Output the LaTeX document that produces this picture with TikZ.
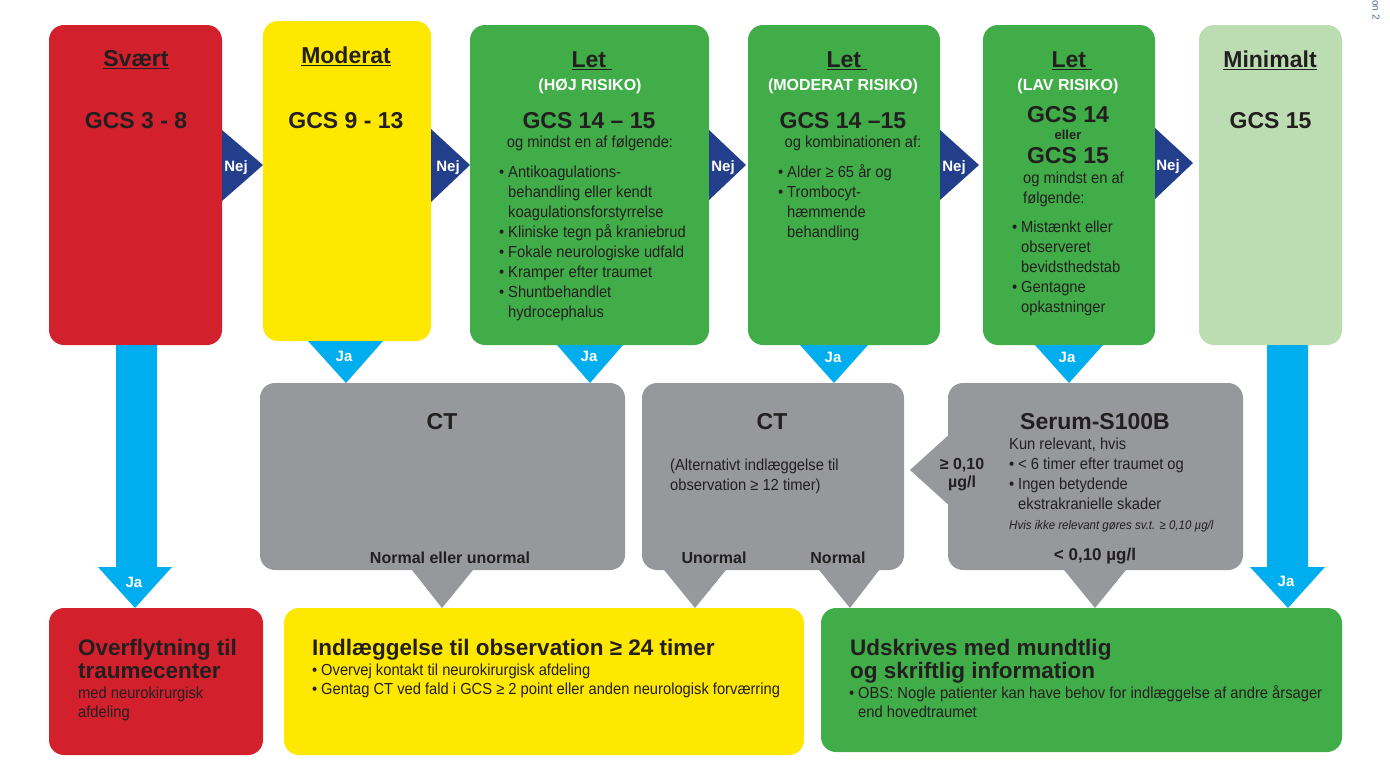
\documentclass[tikz,border=0pt]{standalone}
\usepackage{fontspec}
\setmainfont{Liberation Sans}
\newfontfamily\cond[FakeStretch=0.92]{Liberation Sans}
\definecolor{cRed}{HTML}{D2202C}
\definecolor{cYellow}{HTML}{FFE800}
\definecolor{cGreen}{HTML}{41AD49}
\definecolor{cPale}{HTML}{BCDDB2}
\definecolor{cNej}{HTML}{233E8B}
\definecolor{cJa}{HTML}{00AEEF}
\definecolor{cGray}{HTML}{97989C}
\definecolor{cInk}{HTML}{231F20}
\definecolor{cVers}{HTML}{4A6A96}
\newcommand\bl{\makebox[9pt][l]{•}}
\newcommand\ind{\hspace*{9pt}}
\newcommand\undl[1]{\leavevmode\setbox0\hbox{#1}\rlap{\rule[-3.2pt]{\wd0}{1.6pt}}\box0}
\begin{document}
\begin{tikzpicture}[x=1pt, y=-1pt,
  box/.style={rounded corners=15pt, inner sep=0pt, outer sep=0pt},
  head/.style={font=\bfseries\fontsize{23}{26}\selectfont, text=cInk, inner sep=0pt, anchor=base},
  risk/.style={font=\bfseries\fontsize{16}{19}\selectfont, text=white, inner sep=0pt, anchor=base},
  body/.style={font=\cond\fontsize{16}{20}\selectfont, text=cInk, inner sep=0pt, align=left, anchor=base west},
  tag/.style={font=\bfseries\fontsize{16}{18}\selectfont, text=cInk, inner sep=0pt, anchor=base, align=center},
  title/.style={font=\bfseries\fontsize{22.5}{23}\selectfont, text=cInk, inner sep=0pt, anchor=base west, align=left},
  note/.style={font=\cond\fontsize{16}{19.5}\selectfont, text=cInk, inner sep=0pt, align=left, anchor=base west},
  yes/.style={font=\bfseries\fontsize{15}{18}\selectfont, text=white, inner sep=0pt, anchor=base},
]
\fill[white] (0,0) rectangle (1390,780);
\useasboundingbox (0,0) rectangle (1390,780);

\node[box, fill=cRed, minimum width=173, minimum height=320] (svaert) at (135.5,185) {};
\node[box, fill=cYellow, minimum width=168, minimum height=320] (moderat) at (347,181) {};
\node[box, fill=cGreen, minimum width=239, minimum height=320] (hoej) at (589.5,185) {};
\node[box, fill=cGreen, minimum width=192, minimum height=320] (modrisk) at (844,185) {};
\node[box, fill=cGreen, minimum width=172, minimum height=320] (lav) at (1069,185) {};
\node[box, fill=cPale, minimum width=143, minimum height=320] (minimalt) at (1270.5,185) {};

\node[box, fill=cGray, minimum width=365, minimum height=187] (ctA) at (442.5,476.5) {};
\node[box, fill=cGray, minimum width=262, minimum height=187] (ctB) at (773,476.5) {};
\node[box, fill=cGray, minimum width=295, minimum height=187] (serum) at (1095.5,476.5) {};

\node[box, fill=cRed, minimum width=214, minimum height=147] (overfl) at (156,681.5) {};
\node[box, fill=cYellow, minimum width=520, minimum height=147] (indl) at (544,681.5) {};
\node[box, fill=cGreen, minimum width=521, minimum height=144] (udskr) at (1081.5,680) {};

\fill[cNej] (svaert.east |- 0,130) -- (moderat.west |- 0,165) -- (svaert.east |- 0,201) -- cycle;
\fill[cNej] (moderat.east |- 0,129) -- (hoej.west |- 0,165) -- (moderat.east |- 0,202) -- cycle;
\fill[cNej] (hoej.east |- 0,130) -- (746,0 |- 0,165) -- (hoej.east |- 0,200) -- cycle;
\fill[cNej] (modrisk.east |- 0,130) -- (979,0 |- 0,165) -- (modrisk.east |- 0,200) -- cycle;
\fill[cNej] (lav.east |- 0,128) -- (1193,0 |- 0,163) -- (lav.east |- 0,199) -- cycle;
\node[yes] (nej1) at (236,171) {Nej};
\node[yes] (nej2) at (448,171) {Nej};
\node[yes] (nej3) at (723,171) {Nej};
\node[yes] (nej4) at (954,171) {Nej};
\node[yes] (nej5) at (1168,170) {Nej};

\fill[cJa] (308,0 |- moderat.south) -- (346,0 |- ctA.north) -- (383,0 |- moderat.south) -- cycle;
\fill[cJa] (557,0 |- hoej.south) -- (590,0 |- ctA.north) -- (623,0 |- hoej.south) -- cycle;
\fill[cJa] (800,0 |- modrisk.south) -- (834,0 |- ctB.north) -- (868,0 |- modrisk.south) -- cycle;
\fill[cJa] (1035,0 |- lav.south) -- (1069,0 |- serum.north) -- (1103,0 |- lav.south) -- cycle;
\node[yes] (ja1) at (344,361) {Ja};
\node[yes] (ja2) at (589,361) {Ja};
\node[yes] (ja3) at (833,362) {Ja};
\node[yes] (ja4) at (1067,362) {Ja};

\fill[cJa] (116,0 |- svaert.south) -- (116,567) -- (98,567) -- (135,0 |- overfl.north) -- (172,567) -- (157,567) -- (157,0 |- svaert.south) -- cycle;
\fill[cJa] (1267,0 |- minimalt.south) -- (1267,567) -- (1250,567) -- (1288,0 |- udskr.north) -- (1325,567) -- (1308,567) -- (1308,0 |- minimalt.south) -- cycle;
\node[yes] (ja5) at (134,587) {Ja};
\node[yes] (ja6) at (1286,586) {Ja};

\fill[cGray] (408,565) -- (442,0 |- indl.north) -- (477,565) -- cycle;
\fill[cGray] (660,565) -- (695,0 |- indl.north) -- (730,565) -- cycle;
\fill[cGray] (815,565) -- (850,0 |- udskr.north) -- (883,565) -- cycle;
\fill[cGray] (1060,565) -- (1095,0 |- udskr.north) -- (1130,565) -- cycle;
\fill[cGray] (952,432) -- ([xshift=6pt]ctB.east |- 0,470) -- (952,508) -- cycle;

\node[head] (svaertH) at (136,66) {\undl{Svært}};
\node[head] (svaertG) at (136,128) {GCS 3 - 8};
\node[head] (moderatH) at (346,63) {\undl{Moderat}};
\node[head] (moderatG) at (346,128) {GCS 9 - 13};

\node[head] (hoejH) at (592,67) {\undl{Let\ }};
\node[risk] (hoejR) at (590,90) {(HØJ RISIKO)};
\node[head] (hoejG) at (589,128) {GCS 14 – 15};
\node[body, anchor=base] (hoejS) at (590,147) {og mindst en af følgende:};
\node[body] (hoejL) at (499,317) {\bl Antikoagulations-\\\ind behandling eller kendt\\\ind koagulationsforstyrrelse\\\bl Kliniske tegn på kraniebrud\\\bl Fokale neurologiske udfald\\\bl Kramper efter traumet\\\bl Shuntbehandlet\\\ind hydrocephalus};

\node[head] (modriskH) at (847,67) {\undl{Let\ }};
\node[risk] (modriskR) at (843,90) {(MODERAT RISIKO)};
\node[head] (modriskG) at (843,128) {GCS 14 –15};
\node[body, anchor=base] (modriskS) at (853,147) {og kombinationen af:};
\node[body] (modriskL) at (778,237) {\bl Alder ≥ 65 år og\\\bl Trombocyt-\\\ind hæmmende\\\ind behandling};

\node[head] (lavH) at (1072,67) {\undl{Let\ }};
\node[risk] (lavR) at (1068,90) {(LAV RISIKO)};
\node[head] (lavG) at (1068,122) {GCS 14};
\node[tag, font=\bfseries\fontsize{13}{15}\selectfont] (lavE) at (1068,139) {eller};
\node[head] (lavG2) at (1068,163) {GCS 15};
\node[body] (lavS) at (1023,203) {og mindst en af\\følgende:};
\node[body] (lavL) at (1012,312) {\bl Mistænkt eller\\\ind observeret\\\ind bevidsthedstab\\\bl Gentagne\\\ind opkastninger};

\node[head] (minimaltH) at (1270,67) {\undl{Minimalt}};
\node[head] (minimaltG) at (1270.5,128) {GCS 15};

\node[head] (ctAH) at (442,429) {CT};
\node[tag] (ctAR) at (450,563) {Normal eller unormal};

\node[head] (ctBH) at (772,429) {CT};
\node[body] (ctBT) at (670,490) {(Alternativt indlæggelse til\\observation ≥ 12 timer)};
\node[tag] (ctBU) at (714,563) {Unormal};
\node[tag] (ctBN) at (838,563) {Normal};

\node[head] (serumH) at (1095,429) {Serum-S100B};
\node[body] (serumT) at (1009,509) {Kun relevant, hvis\\\bl< 6 timer efter traumet og\\\bl Ingen betydende\\\ind ekstrakranielle skader};
\node[body, font=\cond\itshape\fontsize{12.5}{15}\selectfont] (serumI) at (1009,529) {Hvis ikke relevant gøres sv.t. ≥ 0,10 µg/l};
\node[tag, font=\bfseries\fontsize{17}{19}\selectfont] (serumLo) at (1095,560) {< 0,10 µg/l};
\node[tag] (serumHi) at (962,487) {≥ 0,10\\µg/l};

\node[title] (overflT) at (78,678) {Overflytning til\\traumecenter};
\node[note] (overflN) at (78,717.5) {med neurokirurgisk\\afdeling};

\node[title] (indlT) at (312,655) {Indlæggelse til observation ≥ 24 timer};
\node[note] (indlN) at (312,694.5) {\bl Overvej kontakt til neurokirurgisk afdeling\\\bl Gentag CT ved fald i GCS ≥ 2 point eller anden neurologisk forværring};

\node[title] (udskrT) at (850,678) {Udskrives med mundtlig\\og skriftlig information};
\node[note] (udskrN) at (849,717.5) {\bl OBS: Nogle patienter kan have behov for indlæggelse af andre årsager\\\ind end hovedtraumet};

\node[font=\fontsize{10}{12}\selectfont, text=cVers, rotate=-90, anchor=west, inner sep=0pt] (vers) at (1376,0) {on 2};
\end{tikzpicture}
\end{document}
